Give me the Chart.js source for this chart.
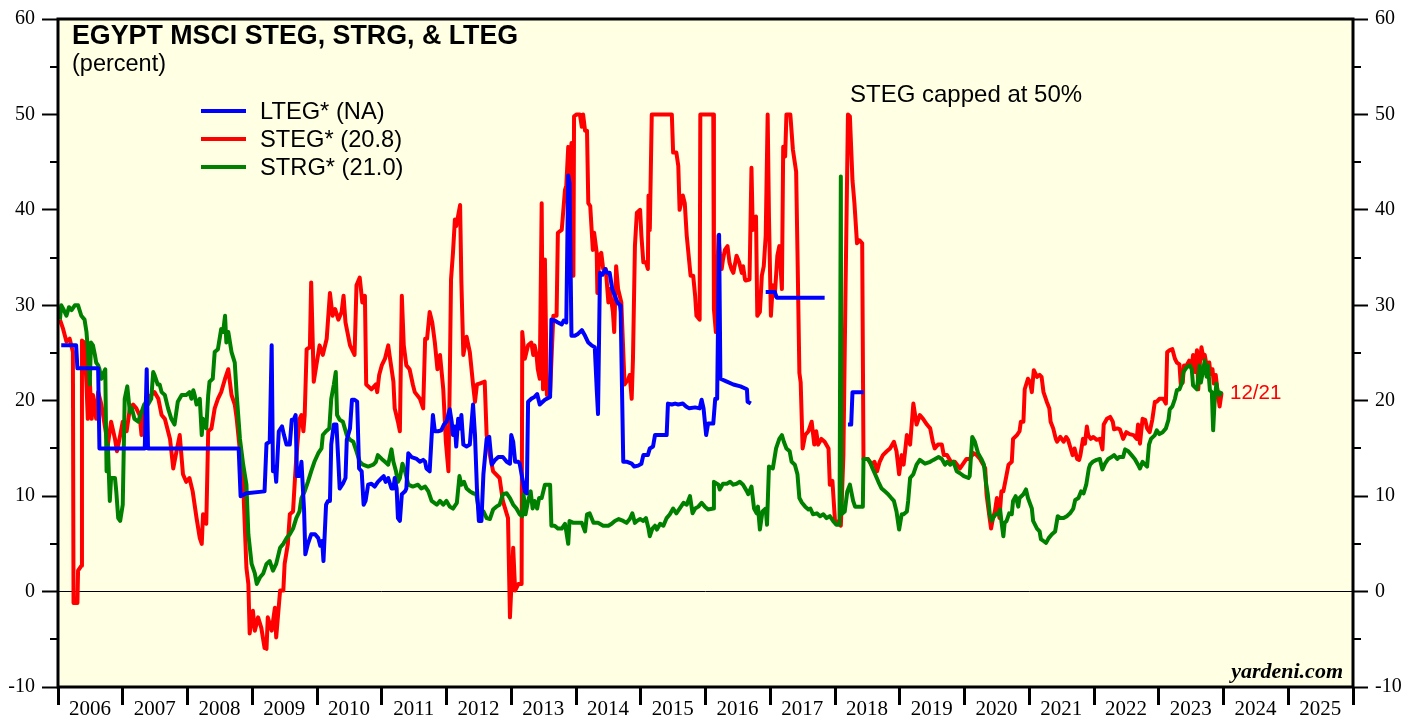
<!DOCTYPE html>
<html>
<head>
<meta charset="utf-8">
<title>Egypt MSCI STEG, STRG & LTEG</title>
<script src="https://cdn.jsdelivr.net/npm/chart.js@4.4.0/dist/chart.umd.min.js"></script>
<style>
  html, body { margin: 0; padding: 0; background: #fff; }
  canvas { display: block; }
</style>
</head>
<body>
<canvas id="egyptChart" width="1419" height="719"></canvas>
<script>
// weekly readings, x in decimal years
const stegYears = [
  2006.03, 2006.08, 2006.13, 2006.18, 2006.23, 2006.24, 2006.30, 2006.31, 2006.36, 2006.37, 2006.41, 2006.44, 2006.46, 2006.49, 2006.52, 2006.54, 2006.59, 2006.62, 2006.67, 2006.72, 2006.77, 2006.82, 2006.88, 2006.91, 2006.95,
  2007.00, 2007.06, 2007.11, 2007.16, 2007.21, 2007.26, 2007.29, 2007.31, 2007.37, 2007.44, 2007.49, 2007.55, 2007.60, 2007.65, 2007.73, 2007.78, 2007.83, 2007.88, 2007.93, 2007.98,
  2008.03, 2008.08, 2008.14, 2008.19, 2008.22, 2008.24, 2008.29, 2008.32, 2008.37, 2008.42, 2008.47, 2008.52, 2008.58, 2008.63, 2008.68, 2008.73, 2008.76, 2008.81, 2008.86, 2008.91, 2008.94, 2008.96,
  2009.01, 2009.04, 2009.09, 2009.14, 2009.19, 2009.22, 2009.24, 2009.30, 2009.35, 2009.37, 2009.43, 2009.48, 2009.50, 2009.55, 2009.58, 2009.63, 2009.66, 2009.68, 2009.73, 2009.76, 2009.79, 2009.81, 2009.84, 2009.89, 2009.91, 2009.95, 2009.99,
  2010.04, 2010.09, 2010.15, 2010.20, 2010.24, 2010.28, 2010.33, 2010.38, 2010.41, 2010.44, 2010.51, 2010.58, 2010.61, 2010.66, 2010.70, 2010.74, 2010.76, 2010.84, 2010.91, 2010.93, 2010.96,
  2011.00, 2011.05, 2011.10, 2011.12, 2011.18, 2011.20, 2011.25, 2011.28, 2011.31, 2011.34, 2011.38, 2011.43, 2011.48, 2011.51, 2011.59, 2011.64, 2011.67, 2011.70, 2011.74, 2011.78, 2011.82, 2011.86, 2011.90, 2011.95, 2011.99,
  2012.03, 2012.05, 2012.07, 2012.10, 2012.13, 2012.15, 2012.18, 2012.21, 2012.23, 2012.26, 2012.31, 2012.36, 2012.41, 2012.44, 2012.47, 2012.51, 2012.59, 2012.62, 2012.67, 2012.72, 2012.82, 2012.87, 2012.95, 2012.98,
  2013.03, 2013.06, 2013.11, 2013.16, 2013.17, 2013.21, 2013.26, 2013.31, 2013.34, 2013.36, 2013.39, 2013.41, 2013.44, 2013.47, 2013.49, 2013.52, 2013.55, 2013.60, 2013.65, 2013.70, 2013.72, 2013.78, 2013.83, 2013.85, 2013.88, 2013.90, 2013.93, 2013.96, 2013.97,
  2014.01, 2014.06, 2014.09, 2014.11, 2014.14, 2014.17, 2014.19, 2014.22, 2014.26, 2014.28, 2014.32, 2014.33, 2014.36, 2014.39, 2014.42, 2014.46, 2014.50, 2014.52, 2014.55, 2014.57, 2014.59, 2014.62, 2014.65, 2014.70, 2014.75, 2014.81, 2014.83, 2014.86, 2014.88, 2014.91, 2014.94, 2014.99,
  2015.01, 2015.04, 2015.08, 2015.11, 2015.12, 2015.14, 2015.17, 2015.48, 2015.50, 2015.55, 2015.58, 2015.60, 2015.65, 2015.68, 2015.71, 2015.77, 2015.81, 2015.84, 2015.86, 2015.91, 2015.92,
  2016.12, 2016.13, 2016.16, 2016.20, 2016.22, 2016.25, 2016.27, 2016.30, 2016.34, 2016.37, 2016.40, 2016.43, 2016.48, 2016.52, 2016.56, 2016.58, 2016.61, 2016.62, 2016.68, 2016.71, 2016.73, 2016.78, 2016.80, 2016.84, 2016.87, 2016.90, 2016.93, 2016.96, 2016.98,
  2017.01, 2017.04, 2017.07, 2017.11, 2017.14, 2017.18, 2017.20, 2017.23, 2017.25, 2017.31, 2017.35, 2017.40, 2017.42, 2017.45, 2017.47, 2017.50, 2017.54, 2017.59, 2017.64, 2017.68, 2017.71, 2017.74, 2017.79, 2017.84, 2017.90, 2017.92, 2017.96,
  2018.00, 2018.03, 2018.06, 2018.09, 2018.13, 2018.16, 2018.20, 2018.23, 2018.27, 2018.30, 2018.34, 2018.38, 2018.42, 2018.44, 2018.51, 2018.56, 2018.61, 2018.65, 2018.69, 2018.74, 2018.80, 2018.85, 2018.91, 2018.95, 2018.99,
  2019.03, 2019.06, 2019.11, 2019.16, 2019.21, 2019.26, 2019.31, 2019.36, 2019.42, 2019.47, 2019.51, 2019.54, 2019.59, 2019.65, 2019.68, 2019.73, 2019.79, 2019.85, 2019.93, 2019.97,
  2020.03, 2020.08, 2020.14, 2020.19, 2020.24, 2020.29, 2020.32, 2020.34, 2020.38, 2020.41, 2020.44, 2020.47, 2020.50, 2020.54, 2020.57, 2020.60, 2020.64, 2020.68, 2020.73, 2020.75, 2020.81, 2020.85, 2020.87, 2020.91, 2020.93, 2020.98,
  2021.01, 2021.04, 2021.07, 2021.12, 2021.16, 2021.19, 2021.22, 2021.27, 2021.31, 2021.33, 2021.37, 2021.41, 2021.43, 2021.48, 2021.53, 2021.57, 2021.60, 2021.63, 2021.67, 2021.70, 2021.74, 2021.77, 2021.79, 2021.83, 2021.86, 2021.89, 2021.91, 2021.95, 2021.99,
  2022.04, 2022.09, 2022.13, 2022.15, 2022.20, 2022.25, 2022.29, 2022.31, 2022.36, 2022.40, 2022.45, 2022.50, 2022.55, 2022.61, 2022.66, 2022.68, 2022.71, 2022.75, 2022.79, 2022.82, 2022.86, 2022.90, 2022.94, 2022.97,
  2023.01, 2023.07, 2023.11, 2023.13, 2023.17, 2023.21, 2023.25, 2023.28, 2023.32, 2023.34, 2023.37, 2023.39, 2023.43, 2023.47, 2023.51, 2023.53, 2023.56, 2023.59, 2023.61, 2023.64, 2023.66, 2023.69, 2023.71, 2023.75, 2023.78, 2023.80, 2023.83, 2023.85, 2023.88, 2023.91, 2023.94, 2023.97
];
const stegValues = [
  28.5, 27.5, 26.2, 26.5, 25.1, -1.2, -1.2, 2.2, 2.7, 26.3, 26.1, 21.7, 18.1, 22.3, 18.1, 20.6, 18.1, 20.9, 19.6, 17.5, 15.4, 17.8, 16.0, 14.7, 16.0,
  17.8, 16.8, 19.2, 19.6, 19.2, 18.5, 16.4, 18.8, 20.2, 20.6, 20.9, 20.2, 18.5, 18.1, 16.0, 12.9, 14.7, 16.4, 12.3, 11.5,
  11.9, 10.5, 7.7, 5.6, 5.0, 8.1, 7.1, 16.8, 17.1, 19.2, 20.2, 20.9, 22.3, 23.3, 20.6, 19.6, 18.1, 14.7, 11.2, 2.5, 0.8, -4.4,
  -2.0, -4.1, -2.7, -3.8, -5.9, -6.0, -2.7, -4.1, -1.7, -4.8, 0.1, 0.1, 2.9, 5.0, 8.1, 8.4, 11.9, 14.0, 18.1, 18.5, 16.8, 18.5, 25.4, 25.6, 32.4, 22.0, 23.7,
  25.8, 24.8, 26.5, 31.3, 28.9, 29.6, 28.5, 29.3, 31.0, 28.2, 25.8, 24.8, 32.1, 32.9, 30.3, 31.0, 21.7, 21.2, 21.7, 20.9, 22.7,
  23.7, 24.4, 25.8, 24.8, 22.0, 19.2, 17.8, 16.8, 31.0, 25.8, 23.7, 23.3, 21.7, 20.9, 20.2, 19.2, 26.5, 26.5, 29.3, 28.2, 26.1, 23.3, 24.8, 21.2, 15.7,
  12.6, 22.0, 32.7, 35.5, 39.0, 38.3, 39.4, 40.5, 32.4, 24.8, 26.7, 25.1, 21.7, 19.9, 21.7, 21.8, 22.0, 16.4, 14.3, 12.6, 11.9, 9.5, 7.7, -2.7,
  4.6, 0.1, 0.8, 0.8, 27.2, 24.4, 25.8, 26.1, 24.8, 25.8, 24.8, 23.3, 22.3, 40.7, 21.2, 34.8, 20.6, 20.9, 28.9, 28.9, 37.6, 37.9, 42.1, 42.5, 46.6, 42.5, 47.0, 33.1, 49.8,
  50, 50, 48.7, 50, 48.3, 48.3, 40.7, 40.4, 35.8, 37.6, 35.5, 31.3, 35.2, 35.5, 33.8, 33.8, 30.3, 31.7, 30.3, 29.3, 27.2, 34.1, 31.7, 30.3, 21.7, 22.3, 22.7, 20.2, 24.4, 36.2, 39.7, 40.0,
  37.3, 34.5, 34.5, 33.8, 41.5, 37.9, 50, 50, 46.0, 46.0, 44.6, 40.0, 41.5, 40.7, 37.3, 33.1, 33.1, 31.0, 28.9, 28.5, 50,
  50, 29.6, 27.2, 37.3, 35.5, 33.8, 34.8, 35.8, 36.2, 34.5, 33.8, 33.4, 35.2, 34.5, 33.4, 34.1, 32.7, 32.6, 32.7, 44.4, 37.9, 39.3, 28.9, 29.3, 33.1, 34.1, 37.3, 50, 39.3,
  28.9, 32.1, 31.0, 35.2, 36.2, 31.7, 46.6, 45.6, 50, 50, 46.3, 44.0, 35.8, 22.9, 21.9, 15.0, 16.4, 16.8, 17.8, 15.4, 16.8, 15.4, 16.0, 15.7, 15.0, 11.2, 11.6,
  7.4, 7.1, 7.4, 6.9, 14.3, 30.3, 50, 49.8, 43.1, 40.7, 36.5, 36.8, 36.5, 13.9, 13.9, 13.3, 13.6, 12.6, 13.6, 14.3, 14.7, 15.0, 15.7, 14.7, 12.3,
  14.3, 13.3, 16.4, 15.4, 19.7, 17.5, 18.5, 18.1, 17.5, 17.1, 15.7, 15.0, 15.4, 15.4, 14.3, 14.3, 13.6, 13.6, 12.9, 13.3,
  13.9, 13.9, 14.5, 14.3, 13.9, 13.3, 12.9, 10.2, 8.1, 6.6, 7.7, 8.4, 9.8, 7.7, 10.5, 10.5, 11.9, 13.3, 13.6, 16.0, 16.4, 16.8, 17.8, 17.8, 21.2, 22.3,
  22.0, 20.9, 23.2, 22.5, 22.7, 22.5, 20.9, 19.9, 19.2, 17.8, 17.1, 16.0, 15.7, 16.2, 15.7, 16.2, 15.9, 15.2, 14.3, 15.0, 13.9, 13.8, 14.3, 16.0, 15.5, 17.3, 16.4, 16.0, 16.2,
  15.9, 16.0, 14.9, 17.5, 18.1, 18.3, 17.8, 17.0, 17.1, 17.0, 16.0, 16.7, 16.5, 16.4, 16.0, 17.5, 15.5, 18.1, 18.0, 17.1, 16.7, 18.0, 19.9, 19.9,
  20.2, 20.2, 19.7, 25.1, 25.3, 25.4, 24.4, 24.0, 23.8, 21.7, 21.9, 23.7, 23.7, 24.2, 23.7, 24.8, 23.0, 25.3, 21.2, 24.4, 25.6, 24.4, 24.8, 23.3, 24.0, 22.8, 23.3, 21.8, 22.7, 20.9, 19.4, 20.8
];

const strgYears = [
  2006.03, 2006.05, 2006.09, 2006.13, 2006.17, 2006.21, 2006.26, 2006.31, 2006.36, 2006.41, 2006.44, 2006.46, 2006.49, 2006.51, 2006.54, 2006.57, 2006.59, 2006.62, 2006.64, 2006.67, 2006.71, 2006.73, 2006.75, 2006.77, 2006.80, 2006.82, 2006.88, 2006.90, 2006.93, 2006.96,
  2007.00, 2007.03, 2007.07, 2007.11, 2007.14, 2007.18, 2007.24, 2007.29, 2007.33, 2007.39, 2007.44, 2007.47, 2007.49, 2007.54, 2007.57, 2007.60, 2007.65, 2007.70, 2007.75, 2007.80, 2007.85, 2007.91, 2007.98,
  2008.03, 2008.06, 2008.09, 2008.11, 2008.14, 2008.19, 2008.22, 2008.24, 2008.29, 2008.32, 2008.34, 2008.39, 2008.42, 2008.47, 2008.52, 2008.55, 2008.58, 2008.60, 2008.63, 2008.68, 2008.73, 2008.76, 2008.78, 2008.81, 2008.86, 2008.91, 2008.94, 2008.99,
  2009.04, 2009.07, 2009.12, 2009.17, 2009.22, 2009.27, 2009.32, 2009.37, 2009.43, 2009.48, 2009.53, 2009.58, 2009.63, 2009.68, 2009.73, 2009.76, 2009.81, 2009.86, 2009.91, 2009.96,
  2010.02, 2010.07, 2010.09, 2010.14, 2010.19, 2010.22, 2010.26, 2010.29, 2010.31, 2010.35, 2010.40, 2010.46, 2010.51, 2010.56, 2010.61, 2010.66, 2010.71, 2010.79, 2010.87, 2010.91, 2010.94,
  2011.00, 2011.05, 2011.10, 2011.15, 2011.18, 2011.22, 2011.25, 2011.28, 2011.32, 2011.36, 2011.41, 2011.48, 2011.56, 2011.61, 2011.67, 2011.72, 2011.77, 2011.85, 2011.90, 2011.95,
  2012.00, 2012.05, 2012.10, 2012.16, 2012.20, 2012.23, 2012.27, 2012.31, 2012.36, 2012.41, 2012.46, 2012.51, 2012.57, 2012.62, 2012.67, 2012.72, 2012.77, 2012.82, 2012.87, 2012.93, 2012.98,
  2013.03, 2013.08, 2013.13, 2013.17, 2013.19, 2013.22, 2013.26, 2013.30, 2013.33, 2013.36, 2013.40, 2013.43, 2013.47, 2013.52, 2013.60, 2013.62, 2013.67, 2013.72, 2013.78, 2013.83, 2013.85, 2013.88, 2013.90, 2013.96,
  2014.01, 2014.09, 2014.14, 2014.17, 2014.21, 2014.27, 2014.34, 2014.42, 2014.50, 2014.55, 2014.60, 2014.66, 2014.73, 2014.78, 2014.83, 2014.87, 2014.91, 2014.94, 2014.99,
  2015.04, 2015.08, 2015.12, 2015.14, 2015.18, 2015.22, 2015.25, 2015.30, 2015.35, 2015.40, 2015.45, 2015.50, 2015.55, 2015.60, 2015.66, 2015.71, 2015.76, 2015.80, 2015.84, 2015.89, 2015.94, 2015.99,
  2016.04, 2016.12, 2016.13, 2016.20, 2016.22, 2016.27, 2016.33, 2016.38, 2016.43, 2016.48, 2016.53, 2016.58, 2016.64, 2016.66, 2016.71, 2016.75, 2016.79, 2016.81, 2016.84, 2016.88, 2016.93, 2016.95, 2016.98,
  2017.04, 2017.09, 2017.14, 2017.18, 2017.21, 2017.25, 2017.30, 2017.33, 2017.38, 2017.42, 2017.45, 2017.49, 2017.54, 2017.59, 2017.62, 2017.66, 2017.72, 2017.77, 2017.82, 2017.87, 2017.92, 2017.97,
  2018.02, 2018.07, 2018.09, 2018.10, 2018.15, 2018.19, 2018.23, 2018.28, 2018.31, 2018.38, 2018.43, 2018.44, 2018.50, 2018.54, 2018.58, 2018.62, 2018.67, 2018.72, 2018.77, 2018.82, 2018.87, 2018.91, 2018.95, 2018.99,
  2019.03, 2019.06, 2019.11, 2019.13, 2019.16, 2019.21, 2019.26, 2019.31, 2019.39, 2019.47, 2019.52, 2019.60, 2019.65, 2019.70, 2019.73, 2019.78, 2019.83, 2019.88, 2019.93, 2019.99,
  2020.06, 2020.08, 2020.12, 2020.16, 2020.21, 2020.26, 2020.30, 2020.33, 2020.36, 2020.39, 2020.42, 2020.44, 2020.48, 2020.52, 2020.55, 2020.57, 2020.60, 2020.62, 2020.65, 2020.69, 2020.73, 2020.75, 2020.79, 2020.83, 2020.85, 2020.91, 2020.95, 2020.98,
  2021.04, 2021.06, 2021.12, 2021.16, 2021.18, 2021.22, 2021.26, 2021.30, 2021.35, 2021.40, 2021.44, 2021.48, 2021.53, 2021.58, 2021.63, 2021.68, 2021.71, 2021.76, 2021.80, 2021.84, 2021.88, 2021.92, 2021.94, 2021.98,
  2022.04, 2022.09, 2022.13, 2022.17, 2022.22, 2022.27, 2022.31, 2022.36, 2022.39, 2022.45, 2022.48, 2022.53, 2022.58, 2022.63, 2022.68, 2022.71, 2022.75, 2022.79, 2022.82, 2022.85, 2022.88, 2022.94, 2022.97,
  2023.01, 2023.06, 2023.11, 2023.15, 2023.17, 2023.21, 2023.25, 2023.28, 2023.32, 2023.36, 2023.38, 2023.43, 2023.48, 2023.51, 2023.53, 2023.56, 2023.59, 2023.63, 2023.65, 2023.68, 2023.71, 2023.74, 2023.76, 2023.79, 2023.82, 2023.84, 2023.86, 2023.89, 2023.91, 2023.94, 2023.97
];
const strgValues = [
  28.5, 30.0, 29.5, 28.9, 29.8, 29.5, 30.0, 30.0, 28.9, 28.5, 27.2, 25.4, 21.7, 26.1, 25.8, 24.8, 24.0, 23.7, 23.3, 22.3, 23.0, 23.3, 12.6, 15.4, 9.5, 11.9, 11.9, 10.5, 7.7, 7.4,
  9.1, 20.2, 21.5, 18.8, 19.2, 18.1, 17.8, 18.8, 19.6, 19.6, 20.2, 23.0, 22.7, 21.7, 21.7, 20.9, 20.6, 19.2, 18.1, 17.5, 19.9, 20.6, 20.6,
  20.9, 20.2, 21.1, 20.6, 19.6, 20.2, 16.4, 18.1, 17.1, 20.6, 22.0, 22.3, 25.1, 25.4, 27.5, 27.2, 28.9, 26.1, 27.2, 25.1, 24.0, 20.6, 18.8, 16.0, 13.3, 11.2, 6.0, 2.9,
  1.9, 0.8, 1.5, 1.9, 2.9, 3.2, 2.2, 2.9, 4.6, 5.0, 5.6, 6.0, 6.6, 7.7, 8.4, 9.8, 10.5, 11.5, 12.6, 13.6,
  14.5, 15.0, 16.4, 16.8, 17.1, 20.2, 21.7, 23.0, 18.5, 18.0, 17.8, 16.4, 15.9, 15.7, 14.7, 13.6, 13.3, 13.1, 13.3, 13.6, 14.3,
  13.9, 13.6, 13.3, 14.9, 13.6, 12.6, 11.5, 11.9, 13.4, 12.6, 11.2, 11.0, 11.2, 10.8, 11.0, 10.5, 9.5, 9.1, 9.5, 9.1,
  9.5, 8.9, 8.7, 9.3, 12.1, 11.2, 11.5, 10.8, 10.5, 10.3, 10.2, 8.1, 8.4, 7.7, 7.6, 8.6, 8.9, 9.1, 10.2, 10.3, 9.8,
  9.1, 8.7, 8.1, 7.9, 10.2, 8.1, 9.5, 10.5, 8.7, 9.5, 8.7, 9.8, 9.8, 11.2, 11.2, 6.9, 6.9, 6.6, 6.6, 7.1, 6.3, 5.0, 7.4, 7.2,
  7.2, 7.2, 6.3, 8.1, 8.2, 7.2, 7.2, 6.9, 6.9, 7.1, 7.4, 7.6, 7.4, 7.2, 7.6, 8.2, 7.2, 7.4, 7.6,
  7.4, 7.7, 6.6, 5.8, 6.6, 6.9, 6.5, 7.1, 6.9, 7.7, 8.1, 8.7, 8.2, 8.7, 9.3, 9.1, 10.0, 8.2, 8.7, 8.9, 9.3, 8.9,
  8.6, 8.7, 11.5, 11.2, 10.7, 11.3, 11.3, 11.5, 11.2, 11.3, 11.5, 11.2, 10.5, 10.2, 11.0, 8.7, 8.2, 8.9, 6.5, 8.4, 8.7, 7.0, 13.1,
  12.9, 15.0, 16.0, 16.4, 15.7, 15.0, 14.7, 13.6, 13.3, 12.3, 9.8, 9.3, 8.9, 8.6, 8.7, 8.1, 8.2, 7.9, 8.1, 7.7, 7.9, 7.4,
  7.0, 7.0, 43.5, 8.1, 8.4, 10.5, 11.2, 9.5, 8.9, 8.9, 8.9, 13.9, 13.9, 13.6, 12.9, 12.3, 11.5, 10.8, 10.5, 10.2, 9.8, 9.5, 8.4, 6.5,
  8.1, 8.1, 8.4, 9.5, 11.9, 12.3, 13.3, 13.8, 13.4, 13.6, 13.8, 14.1, 13.9, 13.3, 13.6, 13.3, 13.6, 12.6, 12.4, 12.1,
  11.9, 12.1, 16.2, 15.7, 14.5, 13.9, 13.3, 11.5, 10.2, 8.1, 7.4, 7.7, 8.1, 8.1, 8.6, 7.4, 5.8, 7.2, 7.4, 8.2, 8.1, 9.5, 10.0, 8.9, 9.8, 10.2, 10.7, 9.8,
  8.7, 7.4, 6.6, 6.3, 5.5, 5.3, 5.1, 5.6, 6.0, 6.3, 7.9, 7.7, 7.7, 7.9, 8.2, 8.7, 9.6, 9.8, 10.5, 10.3, 11.2, 12.9, 13.3, 13.6,
  13.8, 13.9, 12.8, 13.4, 13.9, 14.1, 14.3, 13.9, 14.1, 14.1, 14.9, 14.7, 14.3, 13.9, 13.3, 12.9, 13.6, 13.3, 13.1, 15.4, 16.0, 16.4, 16.9,
  16.5, 16.7, 17.1, 18.0, 19.1, 19.4, 20.2, 21.1, 21.2, 21.9, 23.0, 23.5, 23.7, 23.3, 21.6, 21.4, 21.2, 23.7, 21.9, 23.0, 24.2, 22.5, 23.7, 21.1, 20.9, 16.9, 19.6, 21.8, 20.9, 20.6, 21.0
];

// null marks a break in the LTEG series
const ltegYears = [
  2006.05, 2006.28, 2006.30, 2006.62, 2006.64,
  2007.34, 2007.37, 2007.39,
  2008.79, 2008.82, 2008.91,
  2009.19, 2009.22, 2009.27, 2009.30, 2009.32, 2009.35, 2009.37, 2009.41, 2009.46, 2009.49, 2009.53, 2009.58, 2009.61, 2009.64, 2009.67, 2009.69, 2009.73, 2009.76, 2009.80, 2009.82, 2009.86, 2009.91, 2009.97,
  2010.02, 2010.05, 2010.08, 2010.10, 2010.14, 2010.17, 2010.20, 2010.22, 2010.26, 2010.30, 2010.33, 2010.35, 2010.40, 2010.44, 2010.46, 2010.51, 2010.54, 2010.58, 2010.62, 2010.65, 2010.69, 2010.72, 2010.75, 2010.79, 2010.84, 2010.89, 2010.94,
  2011.00, 2011.03, 2011.06, 2011.10, 2011.15, 2011.18, 2011.20, 2011.23, 2011.25, 2011.28, 2011.31, 2011.36, 2011.38, 2011.41, 2011.46, 2011.54, 2011.59, 2011.64, 2011.67, 2011.69, 2011.74, 2011.77, 2011.79, 2011.82, 2011.87, 2011.92, 2011.96,
  2012.00, 2012.05, 2012.08, 2012.10, 2012.13, 2012.15, 2012.18, 2012.21, 2012.23, 2012.26, 2012.31, 2012.36, 2012.41, 2012.44, 2012.47, 2012.50, 2012.54, 2012.57, 2012.62, 2012.66, 2012.70, 2012.75, 2012.80, 2012.87, 2012.93, 2012.98,
  2013.00, 2013.03, 2013.06, 2013.11, 2013.13, 2013.17, 2013.21, 2013.24, 2013.26, 2013.31, 2013.36, 2013.40, 2013.44, 2013.52, 2013.60, 2013.62, 2013.67, 2013.72, 2013.78, 2013.81, 2013.85, 2013.88, 2013.90, 2013.93, 2013.98,
  2014.03, 2014.09, 2014.14, 2014.19, 2014.24, 2014.29, 2014.32, 2014.34, 2014.37, 2014.41, 2014.45, 2014.48, 2014.52, 2014.56, 2014.60, 2014.64, 2014.68, 2014.69, 2014.73, 2014.79, 2014.86, 2014.90, 2014.96,
  2015.01, 2015.04, 2015.11, 2015.14, 2015.19, 2015.22, 2015.30, 2015.40, 2015.42, 2015.48, 2015.53, 2015.58, 2015.65, 2015.70, 2015.75, 2015.84, 2015.91, 2015.94, 2015.97,
  2016.01, 2016.04, 2016.12, 2016.15, 2016.18, 2016.21, 2016.23, 2016.33, 2016.43, 2016.54, 2016.64, 2016.65, 2016.70, 2016.81, 2016.93,
  2017.07, 2017.10, 2017.84, 2017.95,
  2018.20, 2018.25, 2018.27, 2018.44
];
const ltegValues = [
  25.8, 25.8, 23.4, 23.4, 15.0,
  15.0, 23.3, 15.0,
  15.0, 10.0, 10.3,
  10.5, 15.5, 15.7, 25.8, 12.6, 13.1, 11.5, 16.8, 17.3, 16.4, 15.4, 15.4, 18.0, 18.0, 18.5, 12.1, 12.1, 13.6, 8.6, 3.9, 5.0, 6.0, 6.0,
  5.6, 4.8, 5.3, 3.2, 9.1, 9.5, 9.5, 15.4, 17.5, 17.5, 13.6, 10.8, 11.3, 11.9, 15.9, 17.1, 20.1, 20.1, 19.9, 12.9, 12.6, 9.1, 9.5, 11.2, 11.3, 11.0, 11.5,
  11.9, 12.1, 11.5, 11.9, 10.8, 10.8, 11.9, 10.8, 7.7, 7.4, 10.2, 10.5, 10.8, 14.5, 14.1, 13.9, 13.6, 13.8, 13.6, 12.9, 12.6, 16.2, 18.5, 16.8, 16.8, 16.9, 17.5,
  17.8, 19.1, 17.8, 16.4, 17.3, 15.2, 18.1, 17.1, 18.5, 15.4, 15.2, 15.4, 19.6, 16.4, 10.8, 7.4, 7.4, 12.3, 16.0, 16.2, 13.3, 13.8, 14.1, 14.1, 13.6, 13.4,
  16.4, 15.7, 13.6, 13.6, 13.4, 11.9, 10.5, 10.3, 19.9, 20.2, 20.4, 20.7, 19.6, 20.1, 20.4, 28.5, 28.4, 28.2, 28.0, 28.4, 28.2, 43.6, 42.8, 26.8, 26.8,
  27.0, 27.4, 26.8, 26.1, 25.8, 25.6, 21.2, 18.6, 33.4, 33.2, 33.8, 33.4, 33.4, 31.7, 31.0, 30.3, 30.0, 29.3, 13.6, 13.6, 13.4, 13.1, 13.2,
  13.4, 14.3, 14.3, 15.0, 15.2, 16.4, 16.4, 16.4, 19.7, 19.6, 19.7, 19.6, 19.7, 19.4, 19.2, 19.3, 19.2, 20.1, 19.2,
  16.4, 17.6, 17.6, 20.2, 20.2, 37.4, 22.3, 22.0, 21.7, 21.5, 21.2, 19.9, 19.7, null, 31.4,
  31.4, 30.8, 30.8, null,
  17.5, 17.5, 20.9, 20.9
];

const seriesLabels = ['LTEG* (NA)', 'STEG* (20.8)', 'STRG* (21.0)'];
const seriesColors = ['#0000ff', '#ff0000', '#008000'];
const minorTicks = [-5, 5, 15, 25, 35, 45, 55];

function toPoints(xs, ys) {
  return xs.map((x, i) => ({ x: x, y: ys[i] }));
}

const serifY = { family: '"Liberation Serif", "Times New Roman", serif', size: 20 };
const serifX = { family: '"Liberation Serif", "Times New Roman", serif', size: 21 };
const sans = '"Liberation Sans", Arial, sans-serif';

const decorations = {
  id: 'decorations',
  beforeDraw(chart) {
    const ctx = chart.ctx;
    const a = chart.chartArea;
    ctx.save();
    ctx.fillStyle = '#ffffff';
    ctx.fillRect(0, 0, chart.width, chart.height);
    ctx.fillStyle = '#ffffe4';
    ctx.fillRect(a.left, a.top, a.right - a.left, a.bottom - a.top);
    ctx.restore();
  },
  afterDraw(chart) {
    const ctx = chart.ctx;
    const a = chart.chartArea;
    const y = chart.scales.y;
    ctx.save();

    // minor ticks at the fives
    ctx.strokeStyle = '#000';
    ctx.lineWidth = 2;
    minorTicks.forEach(v => {
      const py = Math.round(y.getPixelForValue(v));
      ctx.beginPath();
      ctx.moveTo(a.left - 8, py);
      ctx.lineTo(a.left, py);
      ctx.moveTo(a.right, py);
      ctx.lineTo(a.right + 8, py);
      ctx.stroke();
    });

    // frame
    ctx.lineWidth = 3;
    ctx.strokeRect(a.left, a.top, a.right - a.left, a.bottom - a.top);

    // title
    ctx.fillStyle = '#000';
    ctx.textBaseline = 'alphabetic';
    ctx.textAlign = 'left';
    ctx.font = 'bold 26.8px ' + sans;
    ctx.fillText('EGYPT MSCI STEG, STRG, & LTEG', 72, 44);
    ctx.font = '23.5px ' + sans;
    ctx.fillText('(percent)', 72, 71);

    // legend
    ctx.font = '23.7px ' + sans;
    ctx.textBaseline = 'middle';
    chart.data.datasets.forEach((ds, i) => {
      const ly = 111 + i * 28;
      ctx.strokeStyle = ds.borderColor;
      ctx.lineWidth = 4;
      ctx.beginPath();
      ctx.moveTo(201, ly);
      ctx.lineTo(246, ly);
      ctx.stroke();
      ctx.fillStyle = '#000';
      ctx.fillText(ds.label, 260, ly + 1);
    });

    // notes
    ctx.textBaseline = 'alphabetic';
    ctx.font = '24px ' + sans;
    ctx.fillStyle = '#000';
    ctx.fillText('STEG capped at 50%', 850, 102);
    ctx.font = '20.5px ' + sans;
    ctx.fillStyle = '#ff0000';
    ctx.fillText('12/21', 1230, 399);
    ctx.font = 'bold italic 22px "Liberation Serif", "Times New Roman", serif';
    ctx.fillStyle = '#000';
    ctx.textAlign = 'right';
    ctx.fillText('yardeni.com', 1343, 678);
    ctx.restore();
  }
};

new Chart(document.getElementById('egyptChart'), {
  type: 'line',
  data: {
    datasets: [
      { label: seriesLabels[0], data: toPoints(ltegYears, ltegValues), borderColor: seriesColors[0], order: 0 },
      { label: seriesLabels[1], data: toPoints(stegYears, stegValues), borderColor: seriesColors[1], order: 2 },
      { label: seriesLabels[2], data: toPoints(strgYears, strgValues), borderColor: seriesColors[2], order: 1 }
    ]
  },
  options: {
    responsive: false,
    animation: false,
    devicePixelRatio: 1,
    spanGaps: false,
    layout: { padding: { top: 15, left: 0, right: 0, bottom: 0 } },
    plugins: { legend: { display: false }, tooltip: { enabled: false } },
    elements: {
      point: { radius: 0 },
      line: { borderWidth: 4, tension: 0, borderJoinStyle: 'round', fill: false }
    },
    scales: {
      x: {
        type: 'linear',
        min: 2006,
        max: 2026,
        afterFit(scale) { scale.height = 32; },
        ticks: {
          stepSize: 1,
          autoSkip: false,
          maxRotation: 0,
          labelOffset: 32,
          padding: -8,
          color: '#000',
          font: serifX,
          callback: v => (v < 2026 ? String(v) : '')
        },
        grid: { drawOnChartArea: false, tickLength: 18, tickWidth: 3, tickColor: '#000' },
        border: { display: false }
      },
      y: {
        position: 'left',
        min: -10,
        max: 60,
        afterFit(scale) { scale.width = 58; },
        ticks: { stepSize: 10, padding: 7, color: '#000', font: serifY },
        grid: {
          color: c => (c.tick && c.tick.value === 0 ? '#000' : 'rgba(0,0,0,0)'),
          lineWidth: 1,
          tickLength: 16,
          tickWidth: 2,
          tickColor: '#000'
        },
        border: { display: false }
      },
      y2: {
        position: 'right',
        min: -10,
        max: 60,
        afterFit(scale) { scale.width = 66; },
        ticks: { stepSize: 10, padding: 7, color: '#000', font: serifY },
        grid: { drawOnChartArea: false, tickLength: 15, tickWidth: 2, tickColor: '#000' },
        border: { display: false }
      }
    }
  },
  plugins: [decorations]
});
</script>
</body>
</html>
